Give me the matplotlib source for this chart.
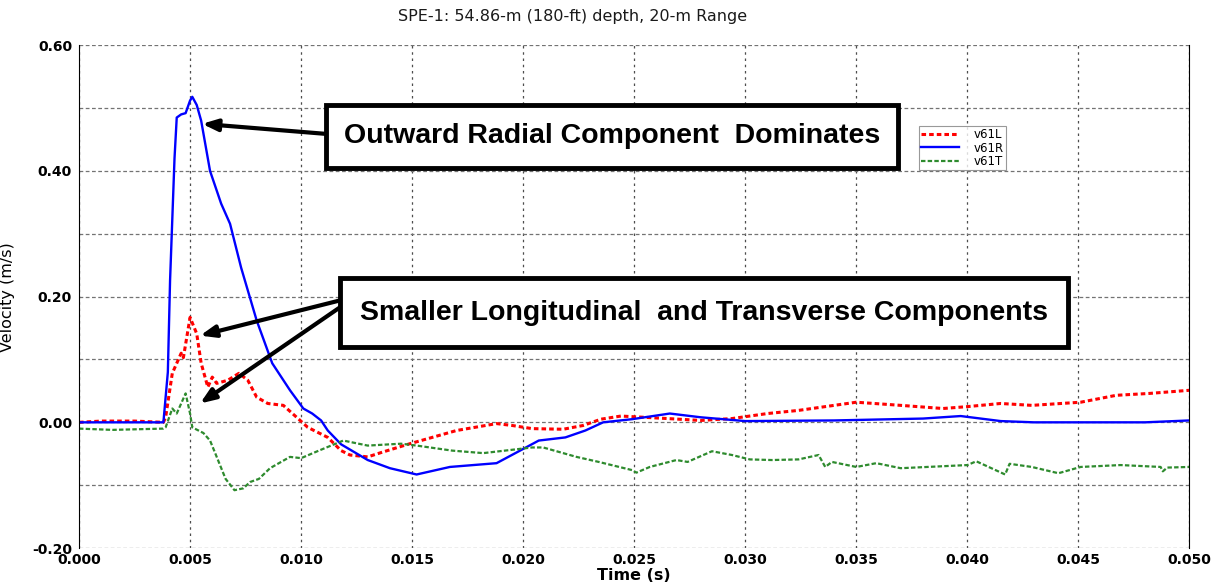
import matplotlib
matplotlib.use("Agg")
import matplotlib.pyplot as plt
from matplotlib.patches import Rectangle
from matplotlib.ticker import MultipleLocator, FormatStrFormatter

# --- digitised gauge records (time in s, velocity in m/s) ---
t_radial = [0.000, 0.0038, 0.0040, 0.0041, 0.0043, 0.0044, 0.0046, 0.0048, 0.0050, 0.0051,
            0.0053, 0.0055, 0.0059, 0.0064, 0.0068, 0.0073, 0.0080, 0.0087, 0.0095, 0.0101,
            0.0105, 0.0109, 0.0112, 0.0118, 0.0130, 0.0140, 0.0152, 0.0167, 0.0188, 0.0197,
            0.0207, 0.0219, 0.0228, 0.0236, 0.0249, 0.0266, 0.0280, 0.0300, 0.0340, 0.0380,
            0.0397, 0.0415, 0.0430, 0.0480, 0.0500]
v_radial = [0.000, 0.000, 0.080, 0.226, 0.420, 0.485, 0.490, 0.492, 0.512, 0.518,
            0.505, 0.480, 0.400, 0.348, 0.316, 0.246, 0.162, 0.094, 0.051, 0.022,
            0.014, 0.003, -0.013, -0.035, -0.060, -0.073, -0.083, -0.071, -0.065, -0.048,
            -0.029, -0.024, -0.013, 0.000, 0.005, 0.014, 0.008, 0.002, 0.003, 0.006,
            0.010, 0.002, 0.000, 0.000, 0.003]

t_long = [0.000, 0.0010, 0.0025, 0.0038, 0.0039, 0.0042, 0.0046, 0.0047, 0.0050, 0.0053,
          0.0055, 0.0058, 0.0060, 0.0062, 0.0067, 0.0072, 0.0076, 0.0080, 0.0085, 0.0092,
          0.0098, 0.0103, 0.0112, 0.0118, 0.0122, 0.0130, 0.0137, 0.0149, 0.0159, 0.0170,
          0.0188, 0.0195, 0.0204, 0.0218, 0.0227, 0.0235, 0.0244, 0.0265, 0.0280, 0.0294,
          0.0310, 0.0324, 0.0350, 0.0370, 0.0389, 0.0400, 0.0415, 0.0429, 0.0451, 0.0467,
          0.0482, 0.0500]
v_long = [0.000, 0.002, 0.002, 0.000, 0.008, 0.078, 0.110, 0.103, 0.167, 0.141,
          0.094, 0.056, 0.072, 0.062, 0.067, 0.078, 0.067, 0.040, 0.030, 0.027,
          0.008, -0.008, -0.024, -0.045, -0.052, -0.055, -0.047, -0.034, -0.024, -0.013,
          -0.002, -0.005, -0.010, -0.011, -0.005, 0.005, 0.010, 0.006, 0.003, 0.006,
          0.014, 0.019, 0.032, 0.027, 0.022, 0.025, 0.030, 0.027, 0.032, 0.043,
          0.046, 0.051]

t_trans = [0.000, 0.0015, 0.0038, 0.0039, 0.0042, 0.0044, 0.0048, 0.0050, 0.0051, 0.0056,
           0.0059, 0.0062, 0.0066, 0.0070, 0.0074, 0.0077, 0.0081, 0.0086, 0.0095, 0.0100,
           0.0108, 0.0119, 0.0130, 0.0145, 0.0152, 0.0168, 0.0182, 0.0204, 0.0209, 0.0224,
           0.0234, 0.0249, 0.0251, 0.0257, 0.0269, 0.0274, 0.0285, 0.0294, 0.0302, 0.0312,
           0.0324, 0.0333, 0.0336, 0.0339, 0.0350, 0.0359, 0.0370, 0.0388, 0.0400, 0.0404,
           0.0417, 0.0419, 0.0429, 0.0441, 0.0451, 0.0469, 0.0487, 0.0488, 0.0490, 0.0500]
v_trans = [-0.010, -0.012, -0.010, -0.008, 0.022, 0.014, 0.046, 0.014, -0.008, -0.017,
           -0.029, -0.055, -0.090, -0.108, -0.105, -0.095, -0.090, -0.073, -0.055, -0.057,
           -0.045, -0.029, -0.037, -0.034, -0.037, -0.045, -0.049, -0.040, -0.040, -0.055,
           -0.063, -0.076, -0.080, -0.071, -0.060, -0.063, -0.046, -0.052, -0.059, -0.060,
           -0.059, -0.052, -0.071, -0.063, -0.071, -0.065, -0.073, -0.070, -0.068, -0.062,
           -0.083, -0.066, -0.071, -0.081, -0.071, -0.068, -0.071, -0.078, -0.072, -0.071]

LABELS = ["v61L", "v61R", "v61T"]
TITLE = "SPE-1: 54.86-m (180-ft) depth, 20-m Range"
NOTE_RADIAL = "Outward Radial Component  Dominates"
NOTE_SMALL = "Smaller Longitudinal  and Transverse Components"

NARROW = ["Liberation Sans Narrow", "Liberation Sans", "DejaVu Sans"]

fig = plt.figure(figsize=(12.25, 5.88), dpi=100)
ax = fig.add_axes([0.0645, 0.068, 0.9065, 0.855])

ax.plot(t_long, v_long, color="red", linestyle=(0, (1.5, 1)), linewidth=2.2, label=LABELS[0])
ax.plot(t_radial, v_radial, color="blue", linestyle="-", linewidth=1.7, label=LABELS[1])
ax.plot(t_trans, v_trans, color="#2e8b2e", linestyle=(0, (2, 1)), linewidth=1.6, label=LABELS[2])

ax.set_xlim(0, 0.05)
ax.set_ylim(-0.2, 0.6)
ax.xaxis.set_major_locator(MultipleLocator(0.005))
ax.xaxis.set_major_formatter(FormatStrFormatter("%.3f"))
ax.yaxis.set_major_locator(MultipleLocator(0.2))
ax.yaxis.set_minor_locator(MultipleLocator(0.1))
ax.yaxis.set_major_formatter(FormatStrFormatter("%.2f"))
ax.tick_params(which="both", length=0, labelsize=10)
ax.tick_params(axis="y", pad=5)
for lab in ax.get_xticklabels() + ax.get_yticklabels():
    lab.set_fontweight("bold")

ax.grid(True, which="major", axis="x", color="0.3", linestyle=(0, (2, 3)), linewidth=0.9)
ax.grid(True, which="both", axis="y", color="0.45", linestyle=(0, (3, 2)), linewidth=0.9)
ax.spines["top"].set_visible(False)
ax.spines["bottom"].set_visible(False)

ax.set_xlabel("Time (s)", fontsize=11.5, fontweight="bold", labelpad=1)
ax.set_ylabel("Velocity (m/s)", fontsize=11.5, labelpad=12)
fig.text(0.467, 0.972, TITLE, ha="center", va="center", fontsize=11.5, color="0.1")

leg = ax.legend(loc="upper left", bbox_to_anchor=(0.751, 0.852), fontsize=8.5,
                frameon=True, fancybox=False, edgecolor="0.5", handlelength=3.2,
                borderpad=0.2, labelspacing=0.05, handletextpad=1.2)
leg.get_frame().set_linewidth(0.8)

# callout boxes
box1 = Rectangle((0.01112, 0.4054), 0.02574, 0.1002, facecolor="white",
                 edgecolor="black", linewidth=3.5, zorder=5)
box2 = Rectangle((0.01175, 0.1192), 0.03276, 0.1097, facecolor="white",
                 edgecolor="black", linewidth=3.5, zorder=5)
ax.add_patch(box1)
ax.add_patch(box2)
ax.text(0.02399, 0.4555, NOTE_RADIAL, ha="center", va="center", fontsize=20.5,
        fontweight="bold", family=NARROW, zorder=6)
ax.text(0.02813, 0.1740, NOTE_SMALL, ha="center", va="center", fontsize=20.5,
        fontweight="bold", family=NARROW, zorder=6)

arrow_kw = dict(arrowstyle="-|>,head_length=0.9,head_width=0.35", color="black",
                linewidth=3, shrinkA=0, shrinkB=0)
ax.annotate("", xy=(0.00554, 0.475), xytext=(0.01112, 0.459),
            arrowprops=arrow_kw, zorder=7)
ax.annotate("", xy=(0.00545, 0.138), xytext=(0.01175, 0.194),
            arrowprops=arrow_kw, zorder=7)
ax.annotate("", xy=(0.00545, 0.030), xytext=(0.01175, 0.183),
            arrowprops=arrow_kw, zorder=7)

fig.savefig("out.png", dpi=100)
